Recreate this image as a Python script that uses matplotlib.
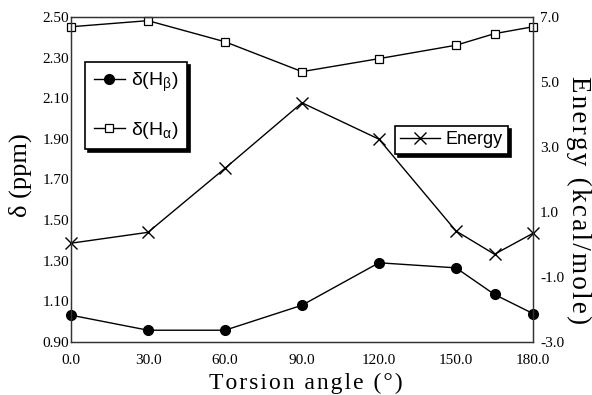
import matplotlib
matplotlib.use("Agg")
import matplotlib.pyplot as plt
from matplotlib.ticker import FormatStrFormatter

# Data
angles = [0, 30, 60, 90, 120, 150, 165, 180]
h_beta = [1.032, 0.958, 0.958, 1.081, 1.290, 1.265, 1.134, 1.040]
h_alpha = [2.452, 2.482, 2.378, 2.231, 2.295, 2.361, 2.418, 2.452]
energy = [0.04, 0.375, 2.345, 4.36, 3.24, 0.415, -0.30, 0.345]

x_ticks = [0, 30, 60, 90, 120, 150, 180]
left_ticks = [0.90, 1.10, 1.30, 1.50, 1.70, 1.90, 2.10, 2.30, 2.50]
right_ticks = [-3.0, -1.0, 1.0, 3.0, 5.0, 7.0]

fig = plt.figure(figsize=(5.92, 3.95), dpi=100)
ax = fig.add_axes([71/592, 1-342/395, (533-71)/592, (342-17)/395])
ax2 = ax.twinx()

serif = "Liberation Serif"
sans = "Liberation Sans"

l1, = ax.plot(angles, h_beta, color="black", lw=1, marker="o", ms=7,
              mfc="black", mec="black", clip_on=False,
              label=r"δ(H$_\mathregular{β}$)")
l2, = ax.plot(angles, h_alpha, color="black", lw=1, marker="s", ms=6,
              mfc="white", mec="black", mew=0.9, clip_on=False,
              label=r"δ(H$_\mathregular{α}$)")
l3, = ax2.plot(angles, energy, color="black", lw=1, marker="x", ms=8,
               mew=1, clip_on=False, label="Energy")

ax.set_xlim(0, 180)
ax.set_ylim(0.90, 2.50)
ax2.set_ylim(-3.0, 7.0)
ax.set_xticks(x_ticks)
ax.set_yticks(left_ticks)
ax2.set_yticks(right_ticks)
ax.xaxis.set_major_formatter(FormatStrFormatter("%.1f"))
ax.yaxis.set_major_formatter(FormatStrFormatter("%.2f"))
ax2.yaxis.set_major_formatter(FormatStrFormatter("%.1f"))

ax.tick_params(axis="x", length=0, pad=9, labelsize=11)
ax.tick_params(axis="y", length=0, pad=1.5, labelsize=11)
ax2.tick_params(axis="y", length=0, pad=5, labelsize=11)
for lab in ax.get_xticklabels() + ax.get_yticklabels() + ax2.get_yticklabels():
    lab.set_fontfamily(serif)
for lab in ax.get_yticklabels() + ax2.get_yticklabels():
    lab.set_va("center_baseline")

for a in (ax, ax2):
    for s in a.spines.values():
        s.set_linewidth(0.9)
        s.set_color("#333333")

def spaced(s, sep="\u200a"):
    return sep.join(s)

fig.text(20/592, 1-175/395, "δ (ppm)", rotation=90, ha="center", va="center",
         fontsize=19, family=[serif, "DejaVu Serif"])
fig.text(579/592, 1-200/395, spaced("Energy (kcal/mole)"), rotation=270,
         ha="center", va="center", fontsize=19.5, family=[serif, "DejaVu Serif"])
fig.text(306/592, 1-383/395, spaced("Torsion angle (°)"), ha="center", va="center",
         fontsize=17, family=[serif, "DejaVu Serif"])

shadow = {"color": "black", "alpha": 1}
leg1 = fig.legend(handles=[l1, l2], loc="upper left",
                  bbox_to_anchor=(85/592, 1-62/395), borderaxespad=0,
                  fancybox=False, shadow=shadow, framealpha=1,
                  edgecolor="black", prop={"family": sans, "size": 14},
                  handlelength=1.6, labelspacing=1.3, handletextpad=0.3,
                  borderpad=0.45)
leg1.get_frame().set_linewidth(1.2)
leg2 = fig.legend(handles=[l3], loc="upper left",
                  bbox_to_anchor=(395/592, 1-126/395), borderaxespad=0,
                  fancybox=False, shadow=shadow, framealpha=1,
                  edgecolor="black", prop={"family": sans, "size": 13},
                  handlelength=2.2, handletextpad=0.3, borderpad=0.3)
leg2.get_frame().set_linewidth(1.2)

fig.savefig("out.png", dpi=100)
